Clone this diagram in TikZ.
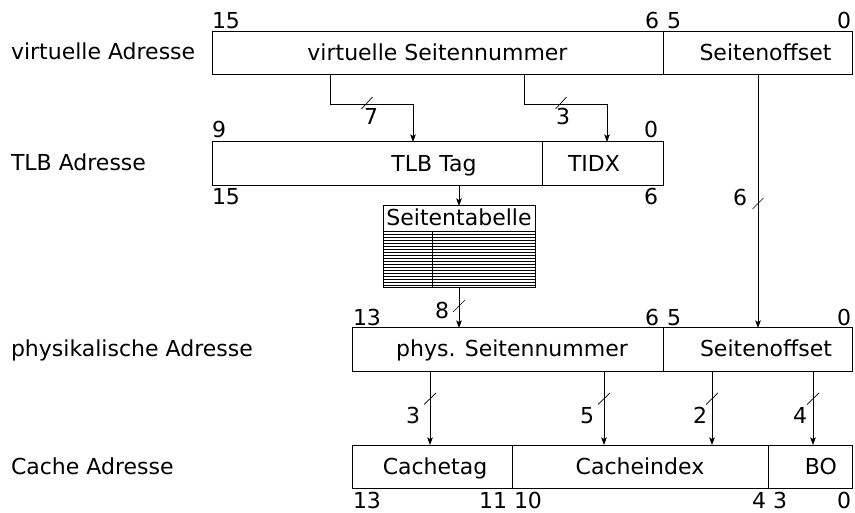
\documentclass[tikz,border=0pt]{standalone}
\usepackage{fontspec}
\setmainfont{DejaVu Sans}
\usetikzlibrary{arrows.meta}
\begin{document}
\begin{tikzpicture}[x=1pt,y=-1pt,
  every node/.style={font=\fontsize{22}{26}\selectfont, inner sep=0pt, outer sep=0pt},
  field/.style={draw, line width=1pt, inner sep=0pt, outer sep=0pt},
  txt/.style={anchor=base},
  numl/.style={anchor=base west},
  numr/.style={anchor=base east},
  arr/.style={line width=0.8pt, -{Stealth[length=7.5pt,width=5.5pt,inset=1.5pt]}},
  tick/.style={line width=0.7pt},
  tabline/.style={line width=1.3pt},
]
\useasboundingbox (0,0) rectangle (855,513);

% ---------- left labels ----------
\node[anchor=base west] (lv) at (11,60) {virtuelle Adresse};
\node[anchor=base west] (lt) at (11,171) {TLB Adresse};
\node[anchor=base west] (lp) at (11,356) {physikalische Adresse};
\node[anchor=base west] (lc) at (11,474) {Cache Adresse};

% ---------- virtual address ----------
\node[field, minimum width=451pt, minimum height=43pt] (vsn) at (437.5,53.5) {};
\node[field, minimum width=189pt, minimum height=43pt] (voff) at (757.5,53.5) {};
\node[txt] (vsnt) at (437.5,61) {virtuelle Seitennummer};
\node[txt] (vofft) at (765.5,61) {Seitenoffset};
\node[numl] (v15) at (212,29) {15};
\node[numr] (v6) at (659,29) {6};
\node[numl] (v5) at (667,29) {5};
\node[numr] (v0) at (851,29) {0};

% ---------- TLB address ----------
\node[field, minimum width=330pt, minimum height=44pt] (tlbtag) at (377,164) {};
\node[field, minimum width=121pt, minimum height=44pt] (tidx) at (602.5,164) {};
\node[txt] (tlbtagt) at (434,172) {TLB Tag};
\node[txt] (tidxt) at (594,172) {TIDX};
\node[numl] (t9) at (212,138) {9};
\node[numr] (t0) at (658,138) {0};
\node[numl] (t15) at (212,205) {15};
\node[numr] (t6) at (658,205) {6};

% ---------- Seitentabelle ----------
\node[field, minimum width=152pt, minimum height=26pt] (st) at (459,219) {};
\node[txt] (stt) at (459,226) {Seitentabelle};
\node[field, minimum width=152pt, minimum height=56pt] (stb) at (459,260) {};
\foreach \yy in {234.5,237.5,...,286}
  \draw[tabline] (383,\yy) -- (535,\yy);
\draw[line width=1pt] (432,232) -- (432,288);

% ---------- physical address ----------
\node[field, minimum width=311pt, minimum height=43.5pt] (ppn) at (507.5,349.75) {};
\node[field, minimum width=189pt, minimum height=43.5pt] (poff) at (757.5,349.75) {};
\node[txt] (ppnt) at (512,357) {phys. Seitennummer};
\node[txt] (pofft) at (766,357) {Seitenoffset};
\node[numl] (p13) at (353,326) {13};
\node[numr] (p6) at (659,326) {6};
\node[numl] (p5) at (667,326) {5};
\node[numr] (p0) at (851,326) {0};

% ---------- cache address ----------
\node[field, minimum width=160pt, minimum height=43pt] (ctag) at (432,466.5) {};
\node[field, minimum width=256pt, minimum height=43pt] (cidx) at (640,466.5) {};
\node[field, minimum width=84pt, minimum height=43pt] (bo) at (810,466.5) {};
\node[txt] (ctagt) at (435,474) {Cachetag};
\node[txt] (cidxt) at (640,474) {Cacheindex};
\node[txt] (bot) at (821,474) {BO};
\node[numl] (c13) at (353,508) {13};
\node[numr] (c11) at (507,508) {11};
\node[numl] (c10) at (514,508) {10};
\node[numr] (c4) at (766,508) {4};
\node[numl] (c3) at (773,508) {3};
\node[numr] (c0) at (851,508) {0};

% ---------- connectors ----------
\coordinate (b1) at (330,104);
\coordinate (b2) at (524,104);
\draw[arr] ([xshift=118pt]vsn.south west) -- (b1) -| ([xshift=201pt]tlbtag.north west);
\draw[arr] ([xshift=312pt]vsn.south west) -- (b2) -| ([xshift=65pt]tidx.north west);
\draw[arr] ([xshift=82pt]tlbtag.south) -- (st.north);
\draw[arr] (stb.south) -- ([xshift=107pt]ppn.north west);
\draw[arr] ([xshift=95pt]voff.south west) -- ([xshift=95pt]poff.north west);
\draw[arr] ([xshift=78pt]ppn.south west) -- ([xshift=78pt]ctag.north west);
\draw[arr] ([xshift=252pt]ppn.south west) -- ([xshift=92pt]cidx.north west);
\draw[arr] ([xshift=49pt]poff.south west) -- ([xshift=200pt]cidx.north west);
\draw[arr] ([xshift=150pt]poff.south west) -- ([xshift=45pt]bo.north west);

% ---------- width marks ----------
\draw[tick] (361.5,109) -- (372.5,97);
\draw[tick] (555.5,109) -- (566.5,97);
\draw[tick] (752.5,209) -- (763.5,198);
\draw[tick] (453,312) -- (465,300);
\foreach \xx in {430,604,712,813}
  \draw[tick] (\xx-6,404.5) -- (\xx+6,393);

\node[txt] (n7) at (371,125) {7};
\node[txt] (n3a) at (563,125) {3};
\node[txt] (n6) at (740,206) {6};
\node[txt] (n8) at (442,319) {8};
\node[txt] (n3b) at (413,423) {3};
\node[txt] (n5) at (587,423) {5};
\node[txt] (n2) at (700,423) {2};
\node[txt] (n4) at (800,423) {4};
\end{tikzpicture}
\end{document}
